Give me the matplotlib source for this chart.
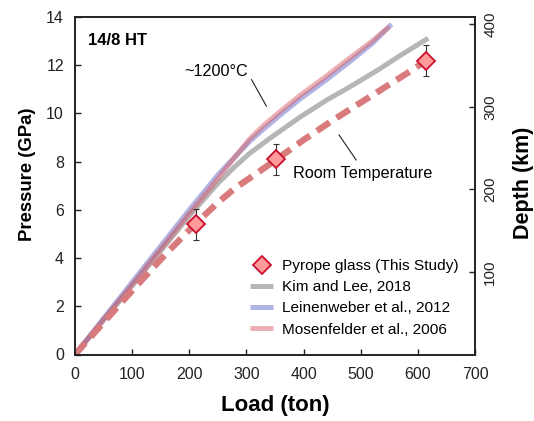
import matplotlib
matplotlib.use('Agg')
from matplotlib import pyplot as plt

plt.rcParams['font.family'] = ['Liberation Sans', 'DejaVu Sans']

# pyrope glass (this study): load (ton), pressure (GPa), error
glass_load = [212, 351, 615]
glass_p = [5.4, 8.1, 12.19]
glass_err = [0.63, 0.64, 0.63]

# room temperature curve through the glass points
rt_load = [0, 100, 160, 212, 250, 280, 320, 350, 400, 450, 500, 540, 580, 615]
rt_p = [0, 2.65, 4.2, 5.45, 6.3, 6.9, 7.55, 8.05, 8.9, 9.7, 10.45, 11.05, 11.65, 12.2]

# ~1200 C calibrations
kim_load = [0, 100, 200, 250, 280, 306, 340, 394, 440, 481, 530, 569, 618]
kim_p = [0, 2.85, 5.75, 7.1, 7.8, 8.35, 8.95, 9.85, 10.55, 11.1, 11.8, 12.4, 13.12]

lein_load = [0, 100, 200, 250, 280, 306, 330, 360, 394, 440, 481, 520, 554]
lein_p = [0, 3.0, 6.0, 7.45, 8.2, 8.85, 9.35, 9.95, 10.6, 11.4, 12.15, 12.9, 13.7]

mos_load = [0, 100, 200, 250, 280, 306, 330, 360, 394, 440, 481, 520, 550]
mos_p = [0, 2.9, 5.85, 7.3, 8.2, 8.95, 9.5, 10.1, 10.75, 11.55, 12.3, 13.0, 13.6]

depth_ticks = [100, 200, 300, 400]

fig = plt.figure(figsize=(5.34, 4.21), dpi=100)
ax = fig.add_axes([75/534, 1-354.5/421, 400/534, (354.5-17)/421])

ax.plot(kim_load, kim_p, color='#aaaaaa', lw=3.6, alpha=0.85, label='Kim and Lee, 2018', solid_capstyle='butt')
ax.plot(lein_load, lein_p, color='#6f78cc', lw=3.6, alpha=0.55, label='Leinenweber et al., 2012', solid_capstyle='butt')
ax.plot(mos_load, mos_p, color='#d8606a', lw=3.6, alpha=0.5, label='Mosenfelder et al., 2006', solid_capstyle='butt')
ax.plot(rt_load, rt_p, color='#d97a7c', lw=4.6, dashes=(2.4, 1.3), solid_capstyle='butt')

ax.errorbar(glass_load, glass_p, yerr=glass_err, fmt='none', ecolor='#333333', elinewidth=0.8, capsize=2.5, capthick=0.8, zorder=4)
ax.plot(glass_load, glass_p, ls='none', marker='D', ms=9.5, mfc='#ff9a9a', mec='#c8102e', mew=1.3, zorder=5, label='Pyrope glass (This Study)')

ax.set_xlim(0, 700)
ax.set_ylim(0, 14)
ax.set_xticks(range(0, 701, 100))
ax.set_yticks(range(0, 15, 2))
ax.tick_params(direction='in', length=4, width=1, labelsize=11.5, pad=8, colors='#222222')
ax.tick_params(axis='x', pad=9)
for s in ax.spines.values():
	s.set_linewidth(1.2)
	s.set_color('#222222')

ax.set_xlabel('Load (ton)', fontsize=16, fontweight='bold', labelpad=9)
ax.set_ylabel('Pressure (GPa)', fontsize=13.3, fontweight='bold', labelpad=7)
ax.yaxis.label.set_y(0.535)

ax2 = ax.twinx()
ax2.set_ylim(0, 409)
ax2.set_yticks(depth_ticks)
ax2.set_yticklabels([str(d) for d in depth_ticks], rotation=90, va='center')
ax2.tick_params(direction='in', length=4, width=1, labelsize=11, pad=6, colors='#222222')
ax2.set_ylabel('Depth (km)', fontsize=15.5, fontweight='bold', labelpad=11)
ax2.yaxis.label.set_y(0.508)
for s in ax2.spines.values():
	s.set_linewidth(1.2)
	s.set_color('#222222')

ax.text(0.032, 0.93, '14/8 HT', transform=ax.transAxes, fontsize=12, fontweight='bold', va='center', ha='left')

# annotations with leader lines
ax.text(247, 11.72, '~1200°C', fontsize=11.6, ha='center', va='center')
ax.plot([309, 335], [11.4, 10.3], color='#222222', lw=0.8)
ax.text(504, 7.52, 'Room Temperature', fontsize=11.7, ha='center', va='center')
ax.plot([462, 492], [9.11, 8.07], color='#222222', lw=0.8)

h, l = ax.get_legend_handles_labels()
order = [3, 0, 1, 2]
ax.legend([h[i] for i in order], [l[i] for i in order], loc='upper left',
	bbox_to_anchor=(250/534, 1-259/421), bbox_transform=fig.transFigure, frameon=False,
	fontsize=11.1, handlelength=1.5, handletextpad=0.6, labelspacing=0.47, borderpad=0, borderaxespad=0)

plt.savefig('out.png', dpi=100)
